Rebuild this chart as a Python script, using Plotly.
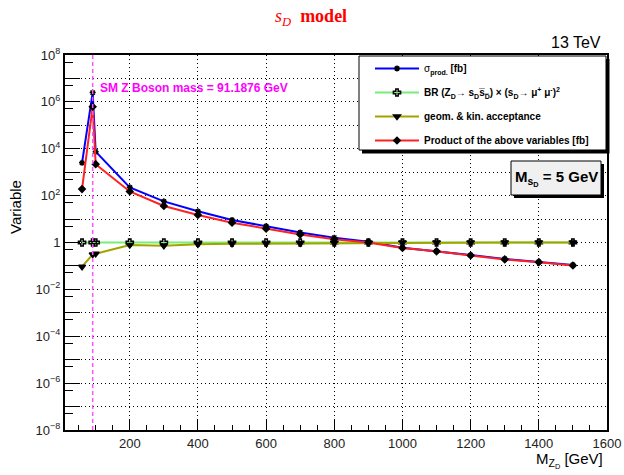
import plotly.graph_objects as go

# ---------------- data ----------------
Z_MASS = 91.1876
mass = [60, 91.1876, 100, 200, 300, 400, 500, 600, 700, 800, 900, 1000, 1100, 1200, 1300, 1400, 1500]
sigma_prod = [2.5e3, 2.5e6, 7.5e3, 225, 57, 21.4, 9.1, 5.0, 2.7, 1.6, 1.08, 0.60, 0.43, 0.29, 0.20, 0.15, 0.11]
br = [1.0, 1.0, 1.0, 1.0, 1.0, 1.0, 1.0, 1.0, 1.0, 1.0, 1.0, 1.0, 1.0, 1.0, 1.0, 1.0, 1.0]
acceptance = [0.093, 0.31, 0.33, 0.78, 0.73, 0.84, 0.88, 0.90, 0.93, 0.95, 0.98, 0.99, 1.0, 1.0, 1.0, 1.0, 1.0]
product = [190, 6.2e5, 2.2e3, 150, 36, 15, 7.0, 3.9, 2.2, 1.37, 1.0, 0.58, 0.42, 0.28, 0.19, 0.145, 0.105]

y_tick_vals = [1e-8, 1e-7, 1e-6, 1e-5, 1e-4, 1e-3, 1e-2, 1e-1, 1, 1e1, 1e2, 1e3, 1e4, 1e5, 1e6, 1e7, 1e8]
y_tick_text = ["10<sup>\u22128</sup>", "", "10<sup>\u22126</sup>", "", "10<sup>\u22124</sup>", "",
               "10<sup>\u22122</sup>", "", "1", "", "10<sup>2</sup>", "", "10<sup>4</sup>", "",
               "10<sup>6</sup>", "", "10<sup>8</sup>"]
y_minor_vals = [5e-8, 5e-7, 5e-6, 5e-5, 5e-4, 5e-3, 5e-2, 5e-1, 5, 5e1, 5e2, 5e3, 5e4, 5e5, 5e6, 5e7]
x_tick_vals = [200, 400, 600, 800, 1000, 1200, 1400, 1600]

names = [
    "\u03c3<sub><b>prod.</b></sub><b> [fb]</b>",
    "<b>BR (Z<sub>D</sub>\u2192 s<sub>D</sub>s\u0305<sub>D\u0305</sub>) \u00d7 (s<sub>D</sub>\u2192 \u03bc<sup>+</sup> \u03bc<sup>-</sup>)<sup>2</sup></b>",
    "<b>geom. & kin. acceptance</b>",
    "<b>Product of the above variables [fb]</b>",
]

W, H = 624, 475
L, R, T, B = 65, 607, 55, 430


def px(xp):
    return (xp - L) / (R - L)


def py(yp):
    return (B - yp) / (B - T)


fig = go.Figure()
series = [
    (sigma_prod, "#0000ff", "asterisk-open", 5),
    (br, "#77ee77", "cross-open", 6),
    (acceptance, "#a3a300", "triangle-down", 6),
    (product, "#ff2222", "diamond", 5),
]
for i, (vals, col, sym, sz) in enumerate(series):
    fig.add_trace(go.Scatter(
        x=mass, y=vals, mode="lines+markers", name=names[i],
        legendgroup=f"g{i}",
        line=dict(color=col, width=2),
        marker=dict(symbol=sym, size=sz, color="black",
                    line=dict(color="black", width=1.5)),
    ))

shapes = []
# Z mass dashed line
shapes.append(dict(type="line", xref="x", yref="paper", x0=Z_MASS, x1=Z_MASS, y0=0, y1=1,
                   line=dict(color="#ff55ff", width=1.5, dash="4px,3px"), layer="above"))
# legend box + shadow
shapes.append(dict(type="rect", xref="paper", yref="paper", x0=px(362), x1=px(609.5), y0=py(153.5), y1=py(59),
                   fillcolor="black", line=dict(width=0), layer="above"))
shapes.append(dict(type="rect", xref="paper", yref="paper", x0=px(359), x1=px(606), y0=py(150), y1=py(56),
                   fillcolor="white", line=dict(color="black", width=1), layer="above"))
# M_sD box + shadow
shapes.append(dict(type="rect", xref="paper", yref="paper", x0=px(514), x1=px(604), y0=py(198), y1=py(164),
                   fillcolor="black", line=dict(width=0), layer="above"))
shapes.append(dict(type="rect", xref="paper", yref="paper", x0=px(511), x1=px(601), y0=py(195), y1=py(161),
                   fillcolor="#f0f0f0", line=dict(color="black", width=1), layer="above"))

annotations = [
    dict(text="<i>s</i><sub><i>D</i></sub>  <b>model</b>", xref="paper", yref="paper",
         x=px(311), y=py(18), xanchor="center", yanchor="middle", showarrow=False,
         font=dict(family="Liberation Serif", size=18, color="#ff0000")),
    dict(text="13 TeV", xref="paper", yref="paper", x=px(603), y=py(42), xanchor="right", yanchor="middle",
         showarrow=False, font=dict(family="Liberation Sans", size=16, color="black")),
    dict(text="<b>SM Z Boson mass = 91.1876 GeV</b>", xref="paper", yref="paper", x=px(98), y=py(88),
         xanchor="left", yanchor="middle", showarrow=False,
         font=dict(family="Liberation Sans", size=12, color="#ff00ff")),
    dict(text="<b>M<sub>s<sub>D</sub></sub> = 5 GeV</b>", xref="paper", yref="paper", x=px(556), y=py(178),
         xanchor="center", yanchor="middle", showarrow=False,
         font=dict(family="Liberation Sans", size=15, color="black")),
    dict(text="M<sub>Z<sub>D</sub></sub> [GeV]", xref="paper", yref="paper", x=px(605), y=py(460),
         xanchor="right", yanchor="middle", showarrow=False,
         font=dict(family="Liberation Sans", size=15, color="black")),
    dict(text="Variable", xref="paper", yref="paper", x=px(15), y=py(207), textangle=-90,
         xanchor="center", yanchor="middle", showarrow=False,
         font=dict(family="Liberation Sans", size=15, color="black")),
]

fig.update_layout(
    width=W, height=H,
    margin=dict(l=L, r=W - R, t=T, b=H - B, pad=0, autoexpand=False),
    paper_bgcolor="white", plot_bgcolor="white",
    font=dict(family="Liberation Sans", color="black"),
    shapes=shapes, annotations=annotations,
    showlegend=True,
    legend=dict(x=px(370), y=py(54), xanchor="left", yanchor="top",
                bgcolor="rgba(0,0,0,0)", borderwidth=0,
                font=dict(family="Liberation Sans", size=10, color="black"),
                itemwidth=44, traceorder="grouped", tracegroupgap=5),
)
fig.update_xaxes(
    range=[10, 1600], tickvals=x_tick_vals, ticks="inside", ticklen=10, tickwidth=1, tickcolor="black",
    showline=True, linewidth=2, linecolor="black", mirror=True,
    showgrid=True, gridcolor="black", griddash="1px,3px", gridwidth=1,
    tickfont=dict(family="Liberation Sans", size=13, color="#222"),
    minor=dict(dtick=50, tick0=0, ticks="inside", ticklen=5, tickcolor="black", showgrid=False),
    zeroline=False, automargin=False,
)
fig.update_yaxes(
    type="log", range=[-8, 8], tickvals=y_tick_vals, ticktext=y_tick_text,
    ticks="inside", ticklen=15, tickwidth=1, tickcolor="black",
    showline=True, linewidth=2, linecolor="black", mirror=True,
    showgrid=True, gridcolor="black", griddash="1px,3px", gridwidth=1,
    tickfont=dict(family="Liberation Sans", size=13, color="#222"),
    minor=dict(tickvals=y_minor_vals, ticks="inside", ticklen=8, tickcolor="black", showgrid=False),
    zeroline=False, automargin=False,
)

fig.write_html("out.html", config={"displayModeBar": False, "staticPlot": True},
               post_script="document.body.style.margin='0';document.body.style.overflow='hidden';")
